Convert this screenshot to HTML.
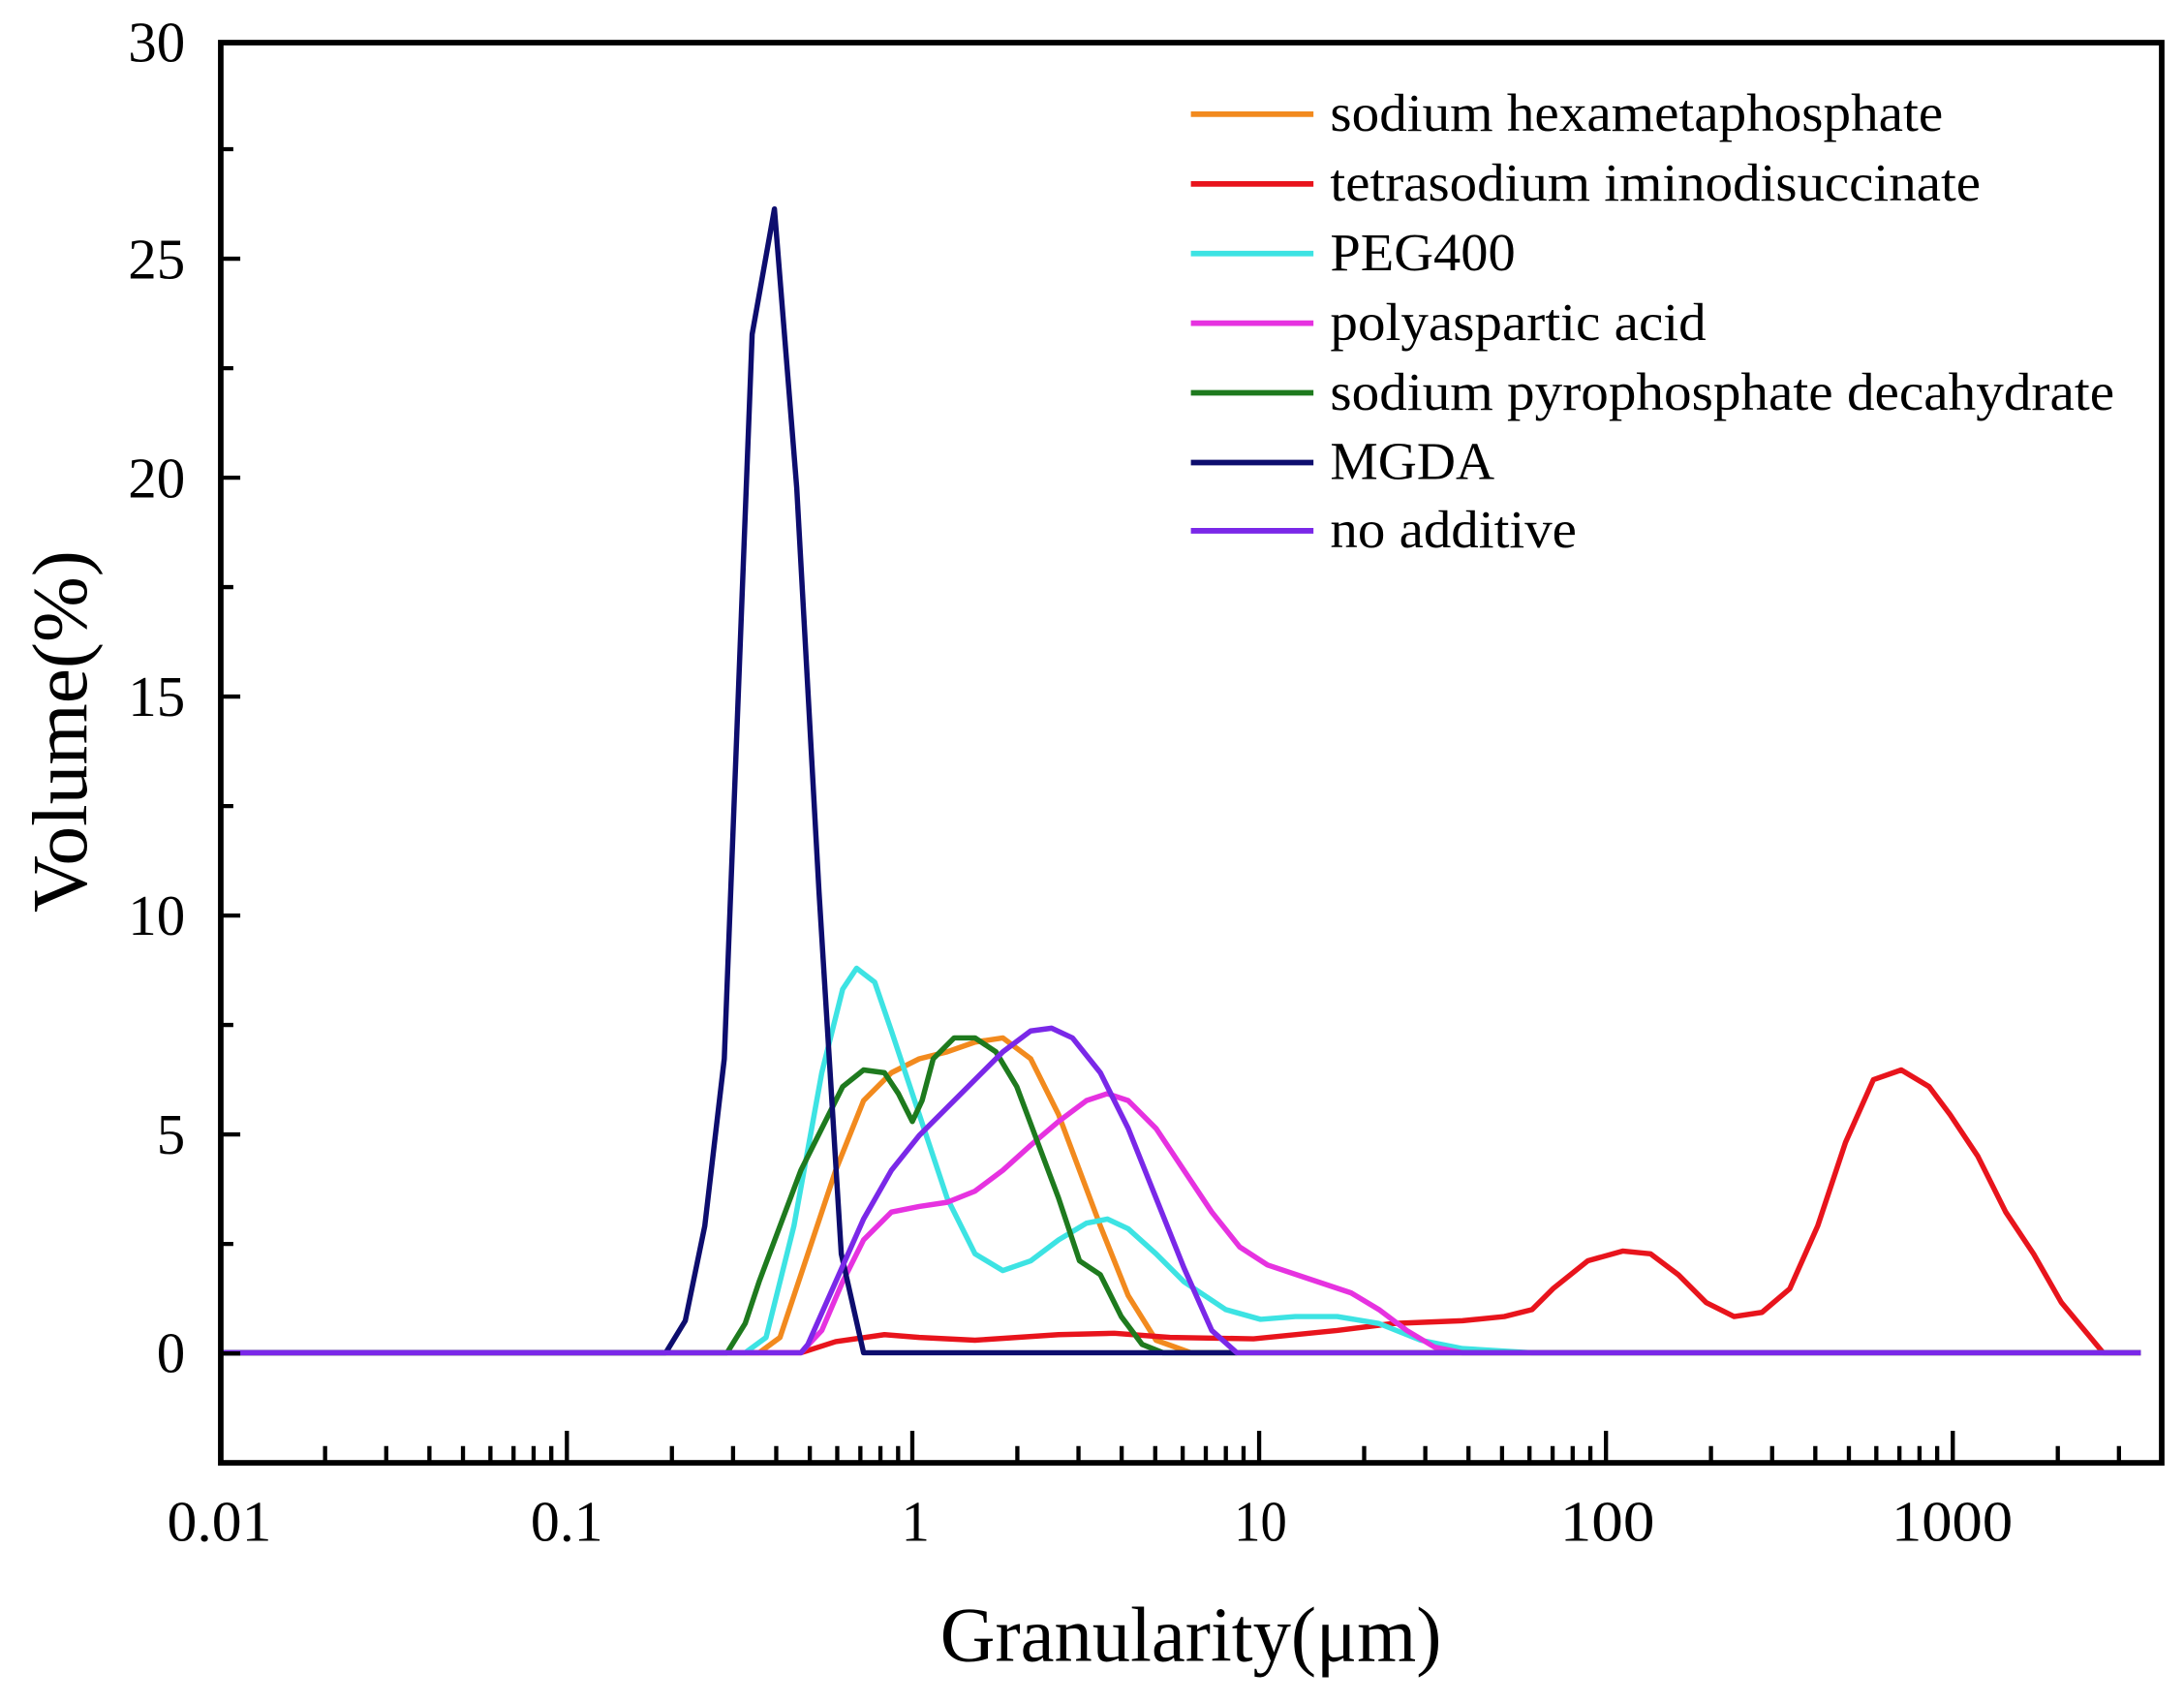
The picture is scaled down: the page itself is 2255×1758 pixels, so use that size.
<!DOCTYPE html>
<html><head><meta charset="utf-8"><style>html,body{margin:0;padding:0;background:#fff}svg{display:block}</style></head>
<body>
<svg width="2255" height="1758" viewBox="0 0 1568 1222.4" preserveAspectRatio="none" xmlns="http://www.w3.org/2000/svg" font-family="Liberation Serif, serif">
<rect width="1568" height="1222.4" fill="#fff"/>
<g fill="none" stroke-width="3.8" stroke-linejoin="round">
<polyline stroke="#f28a1e" points="158,971 545,971 560,960 580,900 600,840 620,790 640,770 660,760 680,755 700,748 720,745 740,760 760,800 775,840 790,880 810,930 830,962 855,971 1537,971"/>
<polyline stroke="#e8141c" points="158,971 575,971 600,963 635,958 660,960 700,962 760,958 800,957 840,960 900,961 960,955 1000,950 1050,948 1080,945 1100,940 1115,925 1140,905 1165,898 1185,900 1205,915 1225,935 1245,945 1265,942 1285,925 1305,880 1325,820 1345,775 1365,768 1385,780 1400,800 1420,830 1440,870 1460,900 1480,935 1510,971 1537,971"/>
<polyline stroke="#3de3e3" points="158,971 535,971 550,960 570,880 590,770 605,710 615,695 628,705 640,740 660,800 680,860 700,900 720,912 740,905 760,890 780,878 795,875 810,882 830,900 850,920 880,940 905,947 930,945 960,945 990,950 1020,962 1050,968 1100,971 1537,971"/>
<polyline stroke="#e632e0" points="158,971 575,971 590,955 605,920 620,890 640,870 660,866 680,863 700,855 720,840 740,822 760,805 780,790 795,785 810,790 830,810 850,840 870,870 890,895 910,908 940,918 970,928 990,940 1010,955 1030,967 1050,971 1537,971"/>
<polyline stroke="#1e7a1e" points="158,971 522,971 535,950 545,920 560,880 575,840 590,810 605,780 620,768 635,770 645,785 655,805 662,790 670,760 685,745 700,745 715,755 730,780 745,820 760,860 775,905 790,915 805,945 820,965 835,971 1537,971"/>
<polyline stroke="#0d0d6e" points="158,971 478,971 492,948 506,880 520,760 540,240 556,150 572,350 588,640 604,900 620,971 888,971"/>
<polyline stroke="#7a28e8" points="158,971 575,971 580,965 600,920 620,875 640,840 660,815 680,795 700,775 720,755 740,740 755,738 770,745 790,770 810,810 830,860 850,910 870,955 888,971 1537,971"/>
</g>
<rect x="158.5" y="30.6" width="1393.5" height="1019.4" fill="none" stroke="#000" stroke-width="4"/>
<g stroke="#000" stroke-width="3">
<path d="M407,1050v-23M655,1050v-23M904,1050v-23M1153,1050v-23M1402,1050v-23"/>
<path d="M233.4,1050v-12M277.3,1050v-12M308.3,1050v-12M332.4,1050v-12M352.1,1050v-12M368.7,1050v-12M383.1,1050v-12M395.8,1050v-12
M482.4,1050v-12M526.3,1050v-12M557.3,1050v-12M581.4,1050v-12M601.1,1050v-12M617.7,1050v-12M632.1,1050v-12M644.8,1050v-12
M730.4,1050v-12M774.3,1050v-12M805.3,1050v-12M829.4,1050v-12M849.1,1050v-12M865.7,1050v-12M880.1,1050v-12M892.8,1050v-12
M979.4,1050v-12M1023.3,1050v-12M1054.3,1050v-12M1078.4,1050v-12M1098.1,1050v-12M1114.7,1050v-12M1129.1,1050v-12M1141.8,1050v-12
M1228.4,1050v-12M1272.3,1050v-12M1303.3,1050v-12M1327.4,1050v-12M1347.1,1050v-12M1363.7,1050v-12M1378.1,1050v-12M1390.8,1050v-12
M1477.4,1050v-12M1521.3,1050v-12"/>
<path d="M158.5,971.5h14M158.5,814.3h14M158.5,657.2h14M158.5,500h14M158.5,342.9h14M158.5,185.7h14
M158.5,892.9h9M158.5,735.7h9M158.5,578.6h9M158.5,421.4h9M158.5,264.3h9M158.5,107.1h9"/>
</g>
<g font-size="41" text-anchor="end" fill="#000">
<text x="133" y="985">0</text>
<text x="133" y="828">5</text>
<text x="133" y="671">10</text>
<text x="133" y="514">15</text>
<text x="133" y="357">20</text>
<text x="133" y="200">25</text>
<text x="133" y="44">30</text>
</g>
<g font-size="41" fill="#000">
<text x="120" y="1106" textLength="75" lengthAdjust="spacingAndGlyphs">0.01</text>
<text x="381" y="1106" textLength="52" lengthAdjust="spacingAndGlyphs">0.1</text>
<text x="647" y="1106">1</text>
<text x="886" y="1106" textLength="38" lengthAdjust="spacingAndGlyphs">10</text>
<text x="1120" y="1106" textLength="68" lengthAdjust="spacingAndGlyphs">100</text>
<text x="1358" y="1106" textLength="87" lengthAdjust="spacingAndGlyphs">1000</text>
</g>
<text x="675" y="1192" font-size="56" textLength="360" lengthAdjust="spacingAndGlyphs">Granularity(μm)</text>
<text transform="translate(62,655) rotate(-90)" font-size="56" textLength="260" lengthAdjust="spacingAndGlyphs">Volume(%)</text>
<g stroke-width="4">
<line x1="855" y1="82" x2="943" y2="82" stroke="#f28a1e"/>
<line x1="855" y1="132" x2="943" y2="132" stroke="#e8141c"/>
<line x1="855" y1="182" x2="943" y2="182" stroke="#3de3e3"/>
<line x1="855" y1="232" x2="943" y2="232" stroke="#e632e0"/>
<line x1="855" y1="282" x2="943" y2="282" stroke="#1e7a1e"/>
<line x1="855" y1="332" x2="943" y2="332" stroke="#0d0d6e"/>
<line x1="855" y1="381" x2="943" y2="381" stroke="#7a28e8"/>
</g>
<g font-size="38" fill="#000">
<text x="955" y="94" textLength="440" lengthAdjust="spacingAndGlyphs">sodium hexametaphosphate</text>
<text x="955" y="144" textLength="467" lengthAdjust="spacingAndGlyphs">tetrasodium iminodisuccinate</text>
<text x="955" y="194" textLength="133" lengthAdjust="spacingAndGlyphs">PEG400</text>
<text x="955" y="244" textLength="270" lengthAdjust="spacingAndGlyphs">polyaspartic acid</text>
<text x="955" y="294" textLength="563" lengthAdjust="spacingAndGlyphs">sodium pyrophosphate decahydrate</text>
<text x="955" y="344" textLength="118" lengthAdjust="spacingAndGlyphs">MGDA</text>
<text x="955" y="393" textLength="177" lengthAdjust="spacingAndGlyphs">no additive</text>
</g>
</svg>
</body></html>
